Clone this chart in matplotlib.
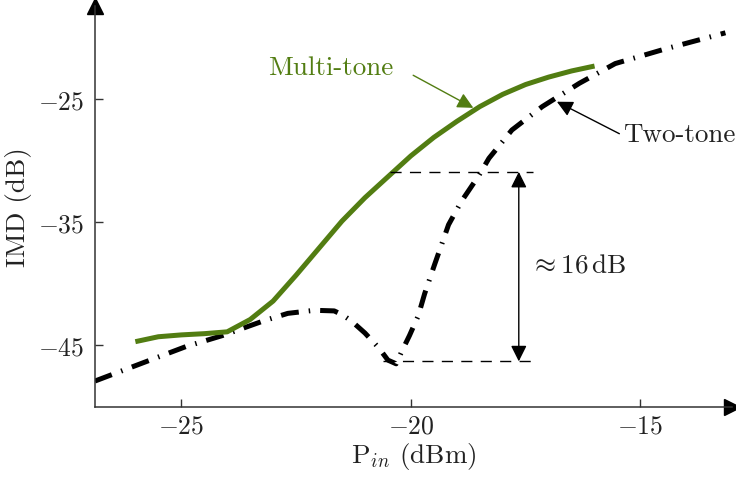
import numpy as np
import matplotlib
matplotlib.use("Agg")
import matplotlib.pyplot as plt

plt.rcParams['font.family'] = ['cmr10', 'DejaVu Serif']
plt.rcParams['mathtext.fontset'] = 'cm'
plt.rcParams['axes.unicode_minus'] = False

# measured IMD curves
pin_multi = [-26.0, -25.5, -25.0, -24.5, -24.0, -23.5, -23.0, -22.5, -22.0, -21.5,
             -21.0, -20.5, -20.0, -19.5, -19.0, -18.5, -18.0, -17.5, -17.0, -16.5, -16.0]
imd_multi = [-44.7, -44.3, -44.15, -44.05, -43.9, -42.9, -41.4, -39.3, -37.1, -34.9,
             -33.0, -31.3, -29.6, -28.1, -26.8, -25.6, -24.6, -23.8, -23.2, -22.7, -22.3]

pin_two = [-26.88, -25.75, -24.9, -24.1, -23.2, -22.68, -22.1, -21.67, -21.5, -21.3,
           -21.0, -20.7, -20.5, -20.32, -20.2, -20.03, -19.84, -19.7, -19.49, -19.18,
           -18.9, -18.52, -18.3, -17.8, -17.14, -16.33, -15.55, -14.45, -13.15]
imd_two = [-47.9, -46.3, -45.1, -44.2, -43.0, -42.4, -42.15, -42.2, -42.5, -43.0,
           -44.0, -45.2, -46.2, -46.5, -45.5, -44.2, -42.6, -40.8, -38.5, -35.2,
           -33.3, -31.2, -29.8, -27.5, -25.6, -23.7, -22.1, -20.9, -19.6]

xticks = [-25, -20, -15]
yticks = [-25, -35, -45]

# gap between the two curves
gap_top = -30.9
gap_bottom = -46.3
gap_x = -17.65

green = '#527d12'
ink = '#222222'

fig = plt.figure(figsize=(7.36, 4.81), dpi=100)
ax = fig.add_axes([0.129, 0.152, 0.866, 0.834])
ax.set_xlim(-26.88, -13.0)
ax.set_ylim(-50.0, -17.4)

ax.plot(pin_two, imd_two, color='black', lw=3.6, dashes=(3.6, 2.0, 0.3, 2.0),
        dash_capstyle='butt', dash_joinstyle='round')
ax.plot(pin_multi, imd_multi, color=green, lw=3.6, solid_capstyle='butt',
        solid_joinstyle='round')

# dashed guide lines and the double arrow
ax.plot([-20.45, -17.35], [gap_top, gap_top], color='black', lw=1.0, dashes=(8, 6))
ax.plot([-20.6, -17.35], [gap_bottom, gap_bottom], color='black', lw=1.0, dashes=(8, 6))
ax.annotate('', xy=(gap_x, gap_top), xytext=(gap_x, gap_bottom),
            arrowprops=dict(arrowstyle='<|-|>', color='black', lw=1.0,
                            mutation_scale=24, shrinkA=0, shrinkB=0))
ax.text(-17.4, (gap_top + gap_bottom) / 2 + 0.2, r'$\approx 16\,\mathrm{dB}$',
        fontsize=19.5, color=ink, va='center', ha='left')

# curve labels
ax.text(-21.75, -22.4, 'Multi-tone', fontsize=19.5, color=green,
        ha='center', va='center')
ax.annotate('', xy=(-18.64, -25.7), xytext=(-19.95, -23.05),
            arrowprops=dict(arrowstyle='-|>', color=green, lw=1.0,
                            mutation_scale=24, shrinkA=0, shrinkB=0))
ax.text(-15.38, -27.85, 'Two-tone', fontsize=19.5, color=ink,
        ha='left', va='center')
ax.annotate('', xy=(-16.82, -25.2), xytext=(-15.46, -27.8),
            arrowprops=dict(arrowstyle='-|>', color='black', lw=1.0,
                            mutation_scale=24, shrinkA=0, shrinkB=0))

# axes drawn as arrows
for side in ['top', 'right']:
    ax.spines[side].set_visible(False)
for side in ['left', 'bottom']:
    ax.spines[side].set_linewidth(1.1)
    ax.spines[side].set_color('#333333')
ax.plot(1, 0, '>', color='black', ms=11, transform=ax.transAxes, clip_on=False)
ax.plot(0, 1, '^', color='black', ms=11, transform=ax.transAxes, clip_on=False)

ax.set_xticks(xticks, labels=[f'${t}$' for t in xticks])
ax.set_yticks(yticks, labels=[f'${t}$' for t in yticks])
ax.tick_params(direction='in', length=6, width=1.0, colors='#333333',
               labelsize=18.5, labelcolor=ink)
ax.tick_params(axis='x', pad=5)
ax.tick_params(axis='y', pad=8)

ax.set_xlabel(r'$\mathrm{P}_{in}$ (dBm)', fontsize=19.5, color=ink, labelpad=2)
ax.set_ylabel('IMD (dB)', fontsize=19.5, color=ink, labelpad=4)

fig.savefig('out.png', dpi=100)
